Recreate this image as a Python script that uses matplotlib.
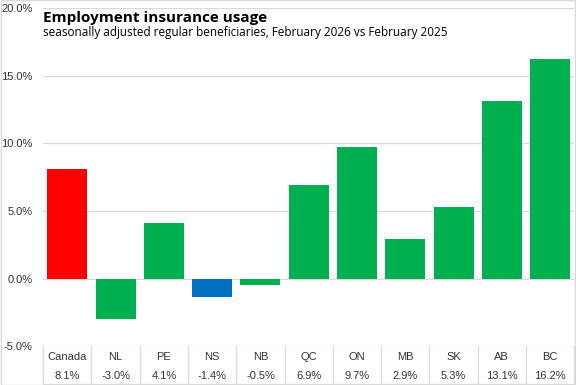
import numpy as np
import matplotlib.pyplot as plt

# data
regions = ["Canada", "NL", "PE", "NS", "NB", "QC", "ON", "MB", "SK", "AB", "BC"]
change = [8.1, -3.0, 4.1, -1.4, -0.5, 6.9, 9.7, 2.9, 5.3, 13.1, 16.2]
yticks = [-5, 0, 5, 10, 15, 20]

red = "#FF0000"
green = "#00B050"
blue = "#0070C0"
colors = [red if r == "Canada" else (blue if r == "NS" else green) for r in regions]

plt.rcParams["font.family"] = ["Liberation Sans", "DejaVu Sans"]

fig = plt.figure(figsize=(5.76, 3.85), dpi=100)
ax = fig.add_axes([0.075, 0.101, 0.922, 0.878])

x = np.arange(len(regions))
ax.bar(x, change, width=0.83, color=colors, zorder=3)

ax.set_xlim(-0.5, len(regions) - 0.5)
ax.set_ylim(-5, 20)
ax.set_yticks(yticks)
ax.set_yticklabels([f"{v:.1f}%" for v in yticks], fontsize=8, color="#333333")
ax.set_xticks([])
ax.tick_params(axis="y", length=0, pad=7.5)
ax.grid(axis="y", color="#D9D9D9", linewidth=0.9, zorder=0)
for s in ax.spines.values():
    s.set_visible(False)

# data table under the chart
tr = ax.get_xaxis_transform()
row_top = 0.0
row_bot = -0.112
for i, (r, v) in enumerate(zip(regions, change)):
    ax.text(i, -0.032, r, transform=tr, ha="center", va="center", fontsize=8, color="#333333")
    ax.text(i, -0.088, f"{v:.1f}%", transform=tr, ha="center", va="center", fontsize=8, color="#333333")
for b in np.arange(-0.5, len(regions), 1.0):
    ax.plot([b, b], [row_top, row_bot], transform=tr, color="#D9D9D9", lw=0.9, clip_on=False)
ax.plot([-0.5, len(regions) - 0.5], [row_bot, row_bot], transform=tr, color="#D9D9D9", lw=0.9, clip_on=False)

# title
fig.text(0.075, 0.952, "Employment insurance usage", fontsize=11, fontweight="bold",
         family=["Open Sans", "DejaVu Sans"], va="center")
fig.text(0.075, 0.915, "seasonally adjusted regular beneficiaries, February 2026 vs February 2025",
         fontsize=8.5, family=["Open Sans", "DejaVu Sans"], va="center")

# outer frame
fig.patches.append(plt.Rectangle((0.001, 0.001), 0.998, 0.998, transform=fig.transFigure,
                                 fill=False, edgecolor="#D9D9D9", lw=1))

plt.savefig("out.png", dpi=100)
